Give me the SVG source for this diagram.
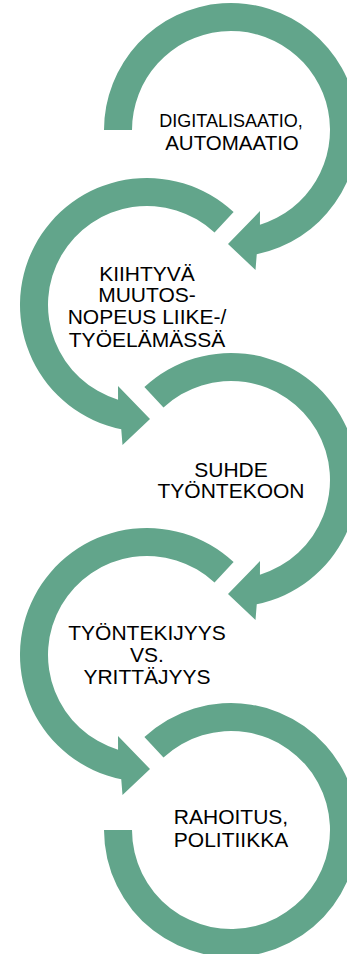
<svg xmlns="http://www.w3.org/2000/svg" width="347" height="954" viewBox="0 0 347 954">
<style>
.ring{fill:#62a58b;stroke:none}
.t{font-family:"Liberation Sans",Arial,sans-serif;font-size:21px;fill:#000;text-anchor:middle}
</style>
<rect width="347" height="954" fill="#fff"/>
<g id="node1">
<path class="ring" d="M104,130 A127,127 0 1 1 256.75,254.36 L255.5,270 L228,244 L260,211 L259.94,224.67 A99,99 0 1 0 132,130 Z"/>
<text class="t" x="231" y="127" style="font-size:18px">DIGITALISAATIO,</text>
<text class="t" x="232" y="149.5" style="font-size:20.5px">AUTOMAATIO</text>
</g>
<g id="node2">
<path class="ring" d="M233.61,212.12 A127,127 0 1 0 121.25,429.36 L122.5,445 L150,419 L118,386 L118.06,399.67 A99,99 0 1 1 214.52,232.59 Z"/>
<text class="t" x="147" y="281">KIIHTYVÄ</text>
<text class="t" x="147" y="302">MUUTOS-</text>
<text class="t" x="147" y="324">NOPEUS LIIKE-/</text>
<text class="t" x="147" y="347">TYÖELÄMÄSSÄ</text>
</g>
<g id="node3">
<path class="ring" d="M144.39,387.12 A127,127 0 1 1 256.75,604.36 L255.5,620 L228,594 L260,561 L259.94,574.67 A99,99 0 1 0 163.48,407.59 Z"/>
<text class="t" x="231" y="477">SUHDE</text>
<text class="t" x="231" y="498">TYÖNTEKOON</text>
</g>
<g id="node4">
<path class="ring" d="M233.61,562.12 A127,127 0 1 0 121.25,779.36 L122.5,795 L150,769 L118,736 L118.06,749.67 A99,99 0 1 1 214.52,582.59 Z"/>
<text class="t" x="147" y="640">TYÖNTEKIJYYS</text>
<text class="t" x="147" y="662">VS.</text>
<text class="t" x="147" y="684">YRITTÄJYYS</text>
</g>
<g id="node5">
<path class="ring" d="M144.39,737.12 A127,127 0 1 1 104,830 L132,830 A99,99 0 1 0 163.48,757.59 Z"/>
<text class="t" x="231" y="824">RAHOITUS,</text>
<text class="t" x="231" y="847">POLITIIKKA</text>
</g>
<g id="connectors"></g>
</svg>
